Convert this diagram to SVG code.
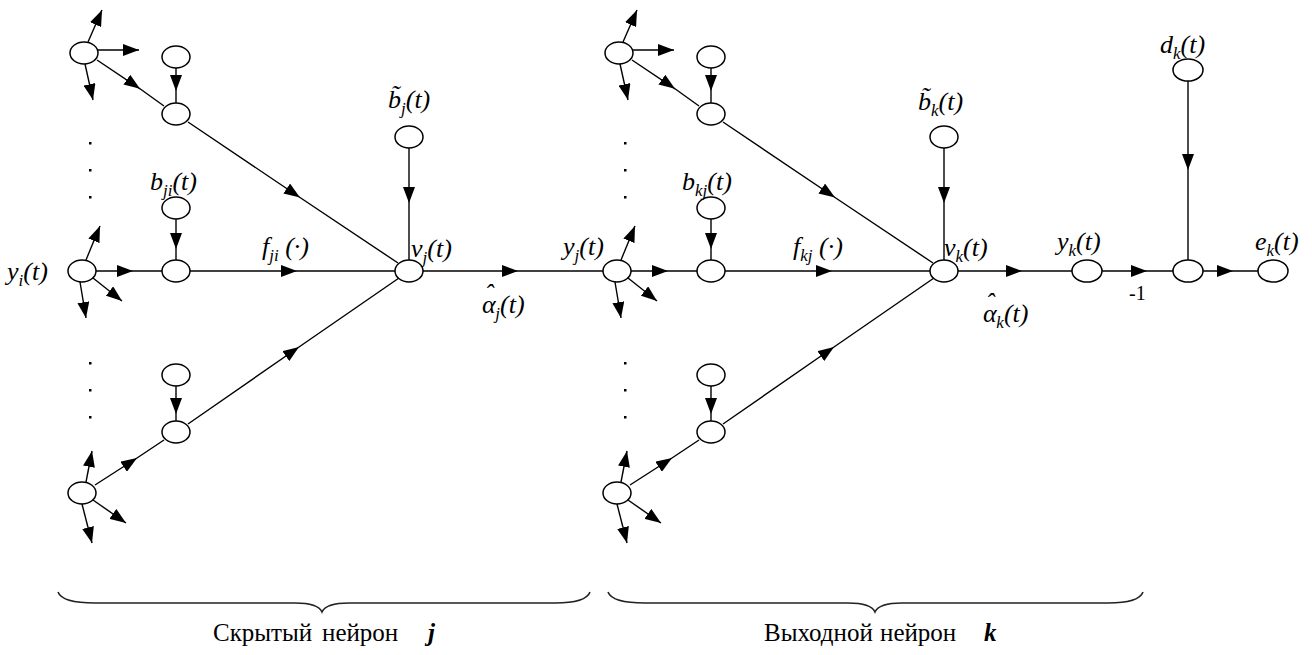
<svg xmlns="http://www.w3.org/2000/svg" width="1312" height="655" viewBox="0 0 1312 655">
<defs>
<marker id="ah" viewBox="0 0 16 12" refX="16" refY="6" markerWidth="16" markerHeight="12" markerUnits="userSpaceOnUse" orient="auto"><path d="M0,0 L16,6 L0,12 z" fill="#000"/></marker>
</defs>
<style>
.n{fill:#fff;stroke:#000;stroke-width:1.5}
.c{fill:none;stroke:#000;stroke-width:1.4}
.m{marker-mid:url(#ah)}
.e{marker-end:url(#ah)}
text{font-family:Liberation Serif, DejaVu Serif, serif}
.l{font-style:italic;font-size:26px;fill:#000}
.s{font-size:17px}
.r{font-size:25px;fill:#000}
.d{fill:#000}
.b{fill:none;stroke:#222;stroke-width:1.6}
</style>
<rect width="1312" height="655" fill="#fff"/>

<g id="connectors">
<path class="c m" d="M97,60 L140,88.8 L164,106"/>
<path class="c m" d="M176,68 L176,91 L176,103"/>
<path class="c m" d="M188,122 L300,197.5 L398,263"/>
<path class="c m" d="M96,271 L133,271 L162,271"/>
<path class="c m" d="M176,219 L176,249 L176,260"/>
<path class="c m" d="M190,271 L297,271 L395,271"/>
<path class="c m" d="M95,485 L137,458 L164,440"/>
<path class="c m" d="M176,386 L176,414 L176,421"/>
<path class="c m" d="M188,424 L299,347 L399,278"/>
<path class="c m" d="M409,148 L409,203 L409,260"/>
<path class="c m" d="M423,271 L518,271 L603,271"/>
<path class="c e" d="M88,42 L102,10"/>
<path class="c e" d="M98,50 L139,50"/>
<path class="c e" d="M85,64 L93,100"/>
<path class="c e" d="M86,260 L100,226"/>
<path class="c e" d="M93,278 L122,301"/>
<path class="c e" d="M80,282 L86,318"/>
<path class="c e" d="M86,482 L92,451"/>
<path class="c e" d="M93,500 L126,523"/>
<path class="c e" d="M82,504 L92,543"/>
<path class="c m" d="M632,60 L675,88.8 L699,106"/>
<path class="c m" d="M711,68 L711,91 L711,103"/>
<path class="c m" d="M723,122 L835,197.5 L933,263"/>
<path class="c m" d="M631,271 L668,271 L697,271"/>
<path class="c m" d="M711,219 L711,249 L711,260"/>
<path class="c m" d="M725,271 L832,271 L930,271"/>
<path class="c m" d="M630,485 L672,458 L699,440"/>
<path class="c m" d="M711,386 L711,414 L711,421"/>
<path class="c m" d="M723,424 L834,347 L934,278"/>
<path class="c m" d="M944,148 L944,203 L944,260"/>
<path class="c e" d="M623,42 L637,10"/>
<path class="c e" d="M633,50 L674,50"/>
<path class="c e" d="M620,64 L628,100"/>
<path class="c e" d="M621,260 L635,226"/>
<path class="c e" d="M628,278 L657,301"/>
<path class="c e" d="M615,282 L621,318"/>
<path class="c e" d="M621,482 L627,451"/>
<path class="c e" d="M628,500 L661,523"/>
<path class="c e" d="M617,504 L627,543"/>
<path class="c m" d="M958,271 L1022,271 L1072,271"/>
<path class="c m" d="M1102,271 L1147,271 L1173,271"/>
<path class="c m" d="M1203,271 L1233,271 L1258,271"/>
<path class="c m" d="M1188,81 L1188,170 L1188,260"/>
</g>

<g id="dots">
<rect class="d" x="89" y="142" width="2.5" height="2.5"/>
<rect class="d" x="89" y="169" width="2.5" height="2.5"/>
<rect class="d" x="89" y="196" width="2.5" height="2.5"/>
<rect class="d" x="89" y="362" width="2.5" height="2.5"/>
<rect class="d" x="89" y="389" width="2.5" height="2.5"/>
<rect class="d" x="89" y="416" width="2.5" height="2.5"/>
<rect class="d" x="624" y="142" width="2.5" height="2.5"/>
<rect class="d" x="624" y="169" width="2.5" height="2.5"/>
<rect class="d" x="624" y="196" width="2.5" height="2.5"/>
<rect class="d" x="624" y="362" width="2.5" height="2.5"/>
<rect class="d" x="624" y="389" width="2.5" height="2.5"/>
<rect class="d" x="624" y="416" width="2.5" height="2.5"/>
</g>

<g id="h-in-top"><ellipse class="n" cx="84" cy="53" rx="14" ry="11"/></g>
<g id="h-bias-top"><ellipse class="n" cx="176" cy="57" rx="14" ry="11"/></g>
<g id="h-sum-top"><ellipse class="n" cx="176" cy="114" rx="14" ry="11"/></g>
<g id="h-in-mid"><ellipse class="n" cx="82" cy="271" rx="14" ry="11"/><text class="l" x="7" y="280">y<tspan class="s" dy="6">i</tspan><tspan dy="-6">(t)</tspan></text></g>
<g id="h-bias-mid"><ellipse class="n" cx="176" cy="208" rx="14" ry="11"/><text class="l" x="150" y="190">b<tspan class="s" dy="6">ji</tspan><tspan dy="-6">(t)</tspan></text></g>
<g id="h-sum-mid"><ellipse class="n" cx="176" cy="271" rx="14" ry="11"/><text class="l" x="262" y="255">f<tspan class="s" dy="6">ji</tspan><tspan dy="-6"> (·)</tspan></text></g>
<g id="h-in-bot"><ellipse class="n" cx="82" cy="493" rx="14" ry="11"/></g>
<g id="h-bias-bot"><ellipse class="n" cx="176" cy="375" rx="14" ry="11"/></g>
<g id="h-sum-bot"><ellipse class="n" cx="176" cy="432" rx="14" ry="11"/></g>
<g id="h-bias-j"><ellipse class="n" cx="409" cy="137" rx="14" ry="11"/><text class="l" x="388" y="108">b̃<tspan class="s" dy="6">j</tspan><tspan dy="-6">(t)</tspan></text></g>
<g id="h-v-j"><ellipse class="n" cx="409" cy="271" rx="14" ry="11"/><text class="l" x="411" y="257">v<tspan class="s" dy="6">j</tspan><tspan dy="-6">(t)</tspan></text><text class="l" x="482" y="313">α<tspan dx="-11" dy="-11">ˆ</tspan><tspan class="s" dx="2" dy="17">j</tspan><tspan dy="-6">(t)</tspan></text></g>

<g id="o-in-top"><ellipse class="n" cx="619" cy="53" rx="14" ry="11"/></g>
<g id="o-bias-top"><ellipse class="n" cx="711" cy="57" rx="14" ry="11"/></g>
<g id="o-sum-top"><ellipse class="n" cx="711" cy="114" rx="14" ry="11"/></g>
<g id="o-in-mid"><ellipse class="n" cx="617" cy="271" rx="14" ry="11"/><text class="l" x="563" y="255">y<tspan class="s" dy="6">j</tspan><tspan dy="-6">(t)</tspan></text></g>
<g id="o-bias-mid"><ellipse class="n" cx="711" cy="208" rx="14" ry="11"/><text class="l" x="682" y="190">b<tspan class="s" dy="6">kj</tspan><tspan dy="-6">(t)</tspan></text></g>
<g id="o-sum-mid"><ellipse class="n" cx="711" cy="271" rx="14" ry="11"/><text class="l" x="793" y="255">f<tspan class="s" dy="6">kj</tspan><tspan dy="-6"> (·)</tspan></text></g>
<g id="o-in-bot"><ellipse class="n" cx="617" cy="493" rx="14" ry="11"/></g>
<g id="o-bias-bot"><ellipse class="n" cx="711" cy="375" rx="14" ry="11"/></g>
<g id="o-sum-bot"><ellipse class="n" cx="711" cy="432" rx="14" ry="11"/></g>
<g id="o-bias-k"><ellipse class="n" cx="944" cy="137" rx="14" ry="11"/><text class="l" x="918" y="110">b̃<tspan class="s" dy="6">k</tspan><tspan dy="-6">(t)</tspan></text></g>
<g id="o-v-k"><ellipse class="n" cx="944" cy="271" rx="14" ry="11"/><text class="l" x="944" y="256">v<tspan class="s" dy="6">k</tspan><tspan dy="-6">(t)</tspan></text><text class="l" x="983" y="322">α<tspan dx="-11" dy="-11">ˆ</tspan><tspan class="s" dx="2" dy="17">k</tspan><tspan dy="-6">(t)</tspan></text></g>

<g id="y-k"><ellipse class="n" cx="1087" cy="271" rx="15" ry="11"/><text class="l" x="1057" y="250">y<tspan class="s" dy="6">k</tspan><tspan dy="-6">(t)</tspan></text><text class="r" x="1129" y="300" style="font-size:20px">-1</text></g>
<g id="d-k"><ellipse class="n" cx="1188" cy="70" rx="15" ry="11"/><text class="l" x="1160" y="53">d<tspan class="s" dy="6">k</tspan><tspan dy="-6">(t)</tspan></text></g>
<g id="err-sum"><ellipse class="n" cx="1188" cy="271" rx="15" ry="11"/></g>
<g id="e-k"><ellipse class="n" cx="1273" cy="271" rx="15" ry="11"/><text class="l" x="1255" y="250">e<tspan class="s" dy="6">k</tspan><tspan dy="-6">(t)</tspan></text></g>

<g id="brace-hidden">
<path class="b" d="M58,592 Q62,603 95,603 L295,603 Q318,603 322,612 Q326,603 349,603 L555,603 Q586,603 590,592"/>
<text class="r" y="641"><tspan x="213">Скрытый</tspan><tspan x="322">нейрон</tspan><tspan x="428" style="font-style:italic;font-weight:bold">j</tspan></text>
</g>
<g id="brace-output">
<path class="b" d="M608,592 Q612,603 645,603 L848,603 Q871,603 875,612 Q879,603 902,603 L1108,603 Q1139,603 1143,592"/>
<text class="r" y="641"><tspan x="764">Выходной</tspan><tspan x="880">нейрон</tspan><tspan x="984" style="font-style:italic;font-weight:bold">k</tspan></text>
</g>
</svg>
